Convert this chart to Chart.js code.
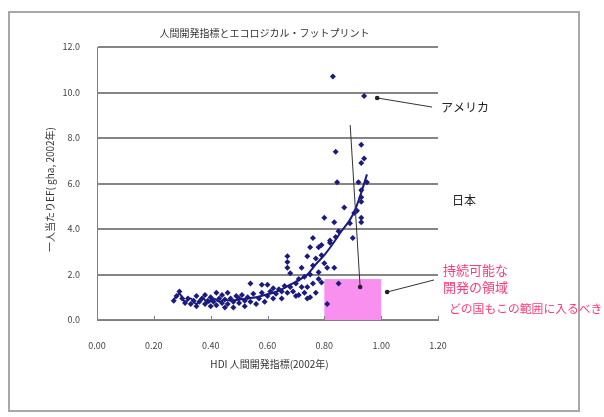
<!DOCTYPE html>
<html>
<head>
<meta charset="utf-8">
<script src="https://cdn.jsdelivr.net/npm/chart.js@4"></script>
<style>
  html, body { margin: 0; padding: 0; background: #fff; }
  #wrap { width: 604px; height: 417px; position: relative; }
</style>
</head>
<body>
<div id="wrap"><canvas id="hdiChart" width="604" height="417"></canvas></div>
<script>
// HDI (x) vs ecological footprint per person (y)
const hdiValues = [
  0.27, 0.28, 0.29, 0.30, 0.31, 0.32, 0.33, 0.34, 0.35, 0.35, 0.36, 0.37, 0.38, 0.38, 0.39,
  0.40, 0.40, 0.41, 0.42, 0.42, 0.43, 0.44, 0.44, 0.45, 0.45, 0.46, 0.46, 0.47, 0.48, 0.48,
  0.49, 0.50, 0.50, 0.51, 0.52, 0.52, 0.53, 0.54, 0.54, 0.55, 0.56, 0.57, 0.58, 0.58, 0.59,
  0.60, 0.60, 0.61, 0.62, 0.62, 0.63, 0.64, 0.65, 0.65, 0.66, 0.67, 0.67, 0.67, 0.67, 0.68,
  0.68, 0.69, 0.70, 0.70, 0.71, 0.71, 0.72, 0.72, 0.73, 0.73, 0.74, 0.74, 0.74, 0.75, 0.75,
  0.75, 0.76, 0.76, 0.76, 0.77, 0.77, 0.78, 0.78, 0.78, 0.79, 0.79, 0.79, 0.80, 0.80, 0.81,
  0.81, 0.82, 0.82, 0.83, 0.835, 0.835, 0.84, 0.84, 0.845, 0.85, 0.85, 0.87, 0.89, 0.90, 0.905,
  0.915, 0.92, 0.93, 0.93, 0.93, 0.93, 0.93, 0.93, 0.93, 0.94, 0.94, 0.95
];
const efValues = [
  0.85, 1.05, 1.25, 0.95, 0.75, 0.95, 0.70, 0.85, 1.05, 0.60, 0.80, 0.95, 0.70, 1.10, 0.85,
  0.60, 1.00, 0.80, 1.20, 0.65, 0.95, 0.75, 1.10, 0.55, 0.90, 1.20, 0.70, 0.95, 0.80, 0.55,
  1.05, 0.75, 0.95, 1.10, 0.85, 0.60, 1.00, 1.60, 0.80, 1.15, 0.70, 0.95, 1.55, 1.20, 0.80,
  1.55, 1.05, 1.25, 0.95, 1.40, 1.15, 1.35, 0.95, 1.25, 1.50, 2.80, 2.55, 2.30, 1.20, 2.05,
  1.45, 1.25, 1.60, 1.05, 1.10, 1.80, 2.30, 1.45, 1.90, 1.20, 2.80, 1.45, 0.95, 3.20, 2.00,
  1.00, 3.60, 1.60, 2.40, 1.20, 2.70, 3.20, 2.10, 1.80, 2.85, 1.65, 3.30, 2.50, 4.50, 2.30,
  0.70, 3.40, 3.50, 10.70, 2.30, 4.30, 3.65, 7.40, 6.05, 3.90, 1.60, 4.95, 4.25, 3.60, 4.70,
  4.80, 6.05, 7.70, 6.90, 5.70, 5.40, 5.20, 4.50, 4.30, 7.10, 9.85, 6.05
];

// moving-average trend line
const trendX = [0.27, 0.29, 0.31, 0.33, 0.35, 0.37, 0.39, 0.41, 0.43, 0.45, 0.47, 0.50, 0.53, 0.56,
  0.59, 0.62, 0.65, 0.68, 0.71, 0.74, 0.77, 0.80, 0.83, 0.86, 0.89, 0.91, 0.93, 0.95];
const trendY = [0.90, 1.15, 0.80, 0.95, 0.70, 1.00, 0.75, 0.95, 0.80, 0.90, 0.85, 0.90, 0.95, 1.00,
  1.10, 1.20, 1.35, 1.55, 1.75, 2.00, 2.45, 2.85, 3.35, 3.90, 4.40, 4.90, 5.60, 6.40];

// sustainable development zone
const zoneX = [0.80, 1.00];
const zoneY = [0, 1.8];

const xTicks = [0, 0.2, 0.4, 0.6, 0.8, 1.0, 1.2];
const yTicks = [0, 2, 4, 6, 8, 10, 12];

const chartTitle = '人間開発指標とエコロジカル・フットプリント';
const xTitle = 'HDI 人間開発指標(2002年)';
const yTitle = '一人当たりEF( gha, 2002年)';

// annotation arrows: [fromX, fromY, toX, toY] in data units
const arrowUSA = [1.179, 9.36, 0.986, 9.76];
const arrowZone = [1.186, 1.76, 1.021, 1.23];
const arrowDrop = [0.891, 8.57, 0.926, 1.45];

const FONT = '"Noto Sans CJK JP", "Noto Sans", sans-serif';
const NAVY = '#1b1b7e';
const PINK_TEXT = '#ff3a78';

function $(id) { return document.getElementById(id); }

const points = hdiValues.map((x, i) => ({ x: x, y: efValues[i] }));
const trend = trendX.map((x, i) => ({ x: x, y: trendY[i] }));

function drawArrow(ctx, sx, sy, a) {
  const x1 = sx.getPixelForValue(a[0]), y1 = sy.getPixelForValue(a[1]);
  const x2 = sx.getPixelForValue(a[2]), y2 = sy.getPixelForValue(a[3]);
  ctx.strokeStyle = '#333';
  ctx.lineWidth = 1;
  ctx.beginPath();
  ctx.moveTo(x1, y1);
  ctx.lineTo(x2, y2);
  ctx.stroke();
  ctx.fillStyle = '#222';
  ctx.beginPath();
  ctx.arc(x2, y2, 2.3, 0, Math.PI * 2);
  ctx.fill();
}

const decor = {
  id: 'decor',
  beforeDraw(chart) {
    const ctx = chart.ctx;
    ctx.save();
    ctx.fillStyle = '#fff';
    ctx.fillRect(0, 0, chart.width, chart.height);
    ctx.strokeStyle = '#a8a8a8';
    ctx.lineWidth = 2;
    ctx.strokeRect(9, 12, 570, 399);
    ctx.restore();
  },
  beforeDatasetsDraw(chart) {
    const ctx = chart.ctx, sx = chart.scales.x, sy = chart.scales.y;
    const l = sx.getPixelForValue(zoneX[0]), r = sx.getPixelForValue(zoneX[1]);
    const t = sy.getPixelForValue(zoneY[1]), b = sy.getPixelForValue(zoneY[0]);
    ctx.save();
    ctx.fillStyle = '#f990f0';
    ctx.fillRect(l, t, r - l, b - t);
    // x tick marks
    ctx.strokeStyle = '#808080';
    ctx.lineWidth = 1;
    xTicks.forEach(v => {
      const px = Math.round(sx.getPixelForValue(v)) + 0.5;
      ctx.beginPath();
      ctx.moveTo(px, b - 4);
      ctx.lineTo(px, b + 1);
      ctx.stroke();
    });
    ctx.restore();
  },
  afterDatasetsDraw(chart) {
    const ctx = chart.ctx, sx = chart.scales.x, sy = chart.scales.y;
    const area = chart.chartArea;
    ctx.save();
    drawArrow(ctx, sx, sy, arrowUSA);
    drawArrow(ctx, sx, sy, arrowZone);
    drawArrow(ctx, sx, sy, arrowDrop);

    ctx.textBaseline = 'middle';
    ctx.fillStyle = '#333';
    ctx.textAlign = 'center';
    ctx.font = '10px ' + FONT;
    ctx.fillText(chartTitle, (area.left + area.right) / 2 - 3, 33);
    ctx.fillText(xTitle, (area.left + area.right) / 2 + 2, 364);

    ctx.save();
    ctx.translate(50, (area.top + area.bottom) / 2 + 6);
    ctx.rotate(-Math.PI / 2);
    ctx.fillText(yTitle, 0, 0);
    ctx.restore();

    ctx.textAlign = 'left';
    ctx.fillStyle = '#222';
    ctx.font = '12px ' + FONT;
    ctx.fillText('アメリカ', area.right + 3, 107);
    ctx.fillText('日本', area.right + 14, 200);

    ctx.fillStyle = PINK_TEXT;
    ctx.font = '13px ' + FONT;
    ctx.fillText('持続可能な', area.right + 5, 270);
    ctx.fillText('開発の領域', area.right + 5, 287);
    ctx.font = '11.8px ' + FONT;
    ctx.fillText('どの国もこの範囲に入るべき', area.right + 11, 309);
    ctx.restore();
  }
};

new Chart($('hdiChart').getContext('2d'), {
  type: 'scatter',
  plugins: [decor],
  data: {
    datasets: [
      {
        label: 'countries',
        data: points,
        backgroundColor: NAVY,
        borderColor: NAVY,
        pointStyle: 'rectRot',
        pointRadius: 3,
        borderWidth: 0
      },
      {
        label: 'trend',
        data: trend,
        showLine: true,
        borderColor: NAVY,
        borderWidth: 2,
        pointRadius: 0,
        tension: 0.3
      }
    ]
  },
  options: {
    responsive: false,
    animation: false,
    events: [],
    layout: { padding: { left: 0, top: 47, right: 166, bottom: 57 } },
    plugins: { legend: { display: false }, tooltip: { enabled: false } },
    scales: {
      x: {
        type: 'linear',
        min: 0, max: 1.2,
        afterFit(scale) { scale.height = 40; },
        afterBuildTicks(scale) { scale.ticks = xTicks.map(v => ({ value: v })); },
        grid: { display: false },
        border: { display: true, color: '#808080', width: 1 },
        ticks: {
          padding: 12,
          color: '#444',
          font: { family: FONT, size: 9 },
          callback: v => v.toFixed(2)
        }
      },
      y: {
        type: 'linear',
        min: 0, max: 12,
        afterFit(scale) { scale.width = 97; },
        afterBuildTicks(scale) { scale.ticks = yTicks.map(v => ({ value: v })); },
        grid: { color: '#858585', lineWidth: 2, drawTicks: false },
        border: { display: true, color: '#808080', width: 1 },
        ticks: {
          padding: 17,
          color: '#444',
          font: { family: FONT, size: 9 },
          callback: v => v.toFixed(1)
        }
      }
    }
  }
});
</script>
</body>
</html>
